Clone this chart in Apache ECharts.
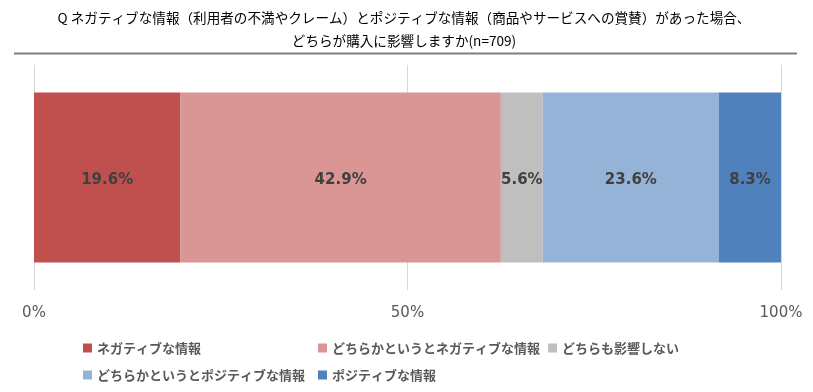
<!DOCTYPE html>
<html>
<head>
<meta charset="utf-8">
<script src="https://cdn.jsdelivr.net/npm/echarts@6/dist/echarts.min.js"></script>
<style>html,body{margin:0;padding:0;background:#fff}#c{width:813px;height:392px}</style>
</head>
<body>
<div id="c"></div>
<script>
const titleLines = [
  'Q ネガティブな情報（利用者の不満やクレーム）とポジティブな情報（商品やサービスへの賞賛）があった場合、',
  'どちらが購入に影響しますか(n=709)'
];
const categories = ['全体'];
const seriesNames = [
  'ネガティブな情報',
  'どちらかというとネガティブな情報',
  'どちらも影響しない',
  'どちらかというとポジティブな情報',
  'ポジティブな情報'
];
const seriesValues = [
  [19.6],
  [42.9],
  [5.6],
  [23.6],
  [8.3]
];
const seriesColors = ['#C0504D', '#D99694', '#BFBFBF', '#95B3D7', '#4F81BD'];
const axisTicks = [0, 50, 100];

const legendPos = [
  {left: 83, top: 339},
  {left: 318, top: 339},
  {left: 548, top: 339},
  {left: 83, top: 366},
  {left: 318, top: 366}
];
const titleY = [17.5, 41];

const chart = echarts.init(document.getElementById('c'), null, {renderer: 'canvas'});
const legendFont = {fontFamily: '"Noto Sans CJK JP", sans-serif', fontSize: 13, fontWeight: 'bold', color: '#595959', lineHeight: 18};

chart.setOption({
  animation: false,
  backgroundColor: '#fff',
  graphic: [{
    type: 'line',
    shape: {x1: 14, y1: 53.5, x2: 797, y2: 53.5},
    style: {stroke: '#7F7F7F', lineWidth: 2}
  }].concat(titleLines.map((t, i) => ({
    type: 'text',
    x: 404,
    y: titleY[i],
    style: {
      text: t,
      textAlign: 'center',
      textVerticalAlign: 'middle',
      fontFamily: '"Noto Sans CJK JP", sans-serif',
      fontSize: 13.6,
      fill: '#000'
    }
  }))),
  legend: seriesNames.map((n, i) => ({
    data: [n],
    left: legendPos[i].left,
    top: legendPos[i].top,
    padding: 0,
    itemWidth: 9,
    itemHeight: 9,
    icon: 'rect',
    itemGap: 0,
    textStyle: legendFont,
    selectedMode: false
  })),
  grid: {left: 34, right: 32, top: 65, bottom: 102, containLabel: false},
  xAxis: {
    type: 'value',
    min: axisTicks[0],
    max: axisTicks[axisTicks.length - 1],
    interval: axisTicks[1] - axisTicks[0],
    axisLine: {show: false},
    axisTick: {show: false},
    splitLine: {show: true, lineStyle: {color: '#D9D9D9', width: 1}},
    axisLabel: {
      formatter: v => v + '%',
      margin: 16,
      fontFamily: '"DejaVu Sans", sans-serif',
      fontSize: 15,
      color: '#595959'
    }
  },
  yAxis: {
    type: 'category',
    data: categories,
    axisLine: {show: false},
    axisTick: {show: false},
    axisLabel: {show: false}
  },
  series: seriesNames.map((n, i) => ({
    name: n,
    type: 'bar',
    stack: 'total',
    data: seriesValues[i],
    barWidth: 170,
    itemStyle: {color: seriesColors[i]},
    label: {
      show: true,
      position: 'inside',
      offset: [0, 3],
      formatter: p => p.value.toFixed(1) + '%',
      fontFamily: '"DejaVu Sans", sans-serif',
      fontSize: 15,
      fontWeight: 'bold',
      color: '#404040'
    }
  }))
});
</script>
</body>
</html>
